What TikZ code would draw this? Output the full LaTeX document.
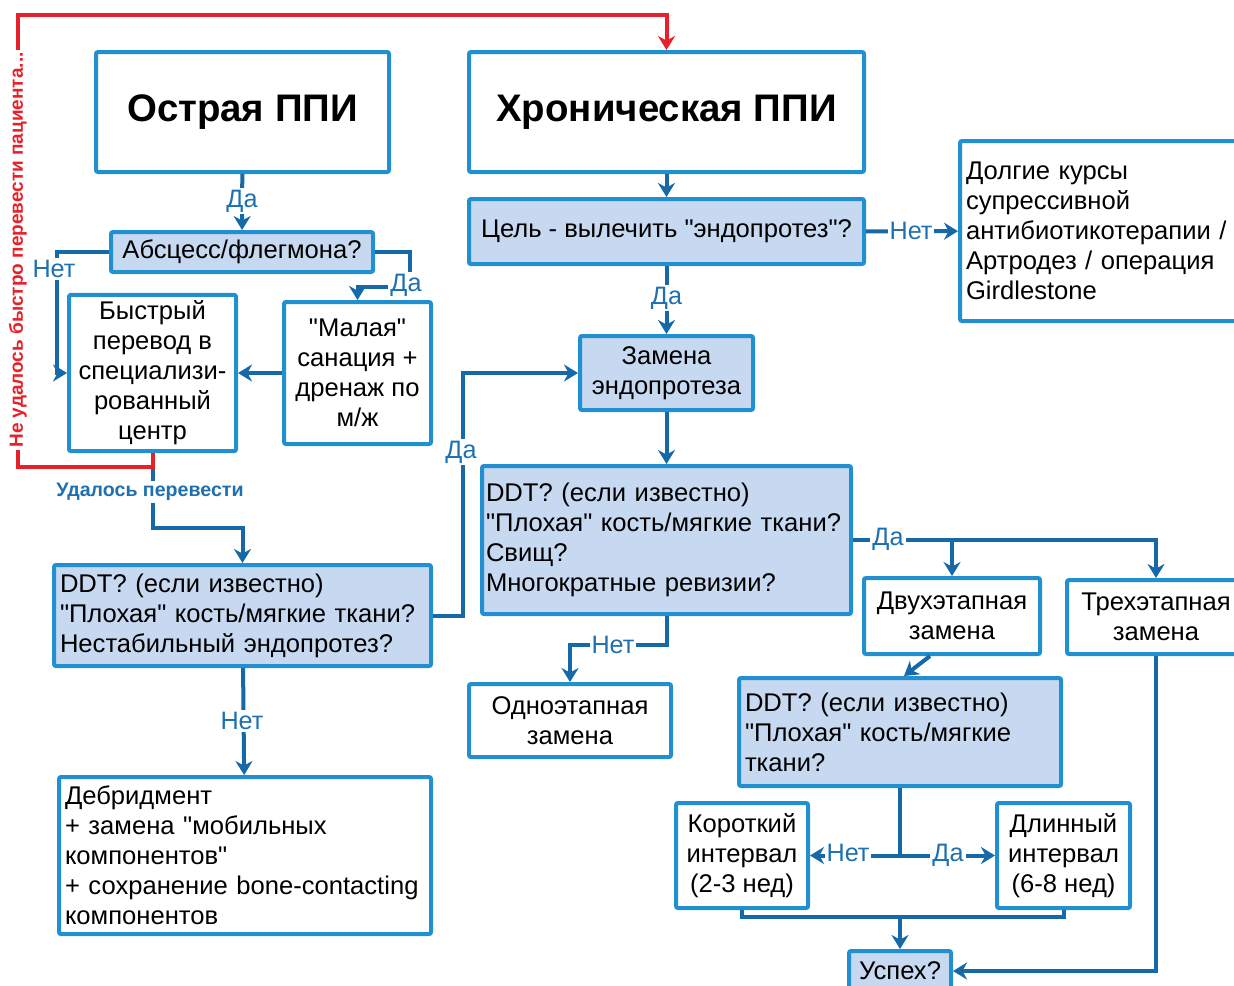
\documentclass[tikz,border=0pt]{standalone}
\usepackage{fontspec}
\setmainfont{Liberation Sans}[Ligatures=TeXOff]
\usetikzlibrary{arrows.meta}

\definecolor{bdblue}{RGB}{33,143,208}
\definecolor{lnblue}{RGB}{22,104,166}
\definecolor{lbblue}{RGB}{30,112,176}
\definecolor{qfill}{RGB}{198,217,240}
\definecolor{redln}{RGB}{232,32,42}

\begin{document}
\begin{tikzpicture}[x=0.5pt, y=-0.5pt,
  box/.style={draw=bdblue, line width=2pt, rounded corners=1pt, fill=white,
    inner sep=3pt, align=center, font=\fontsize{12.8}{15}\selectfont},
  qbox/.style={box, fill=qfill},
  titlebox/.style={box, font=\bfseries\fontsize{19.2}{23}\selectfont},
  lbl/.style={fill=white, inner sep=1pt, text=lbblue, font=\fontsize{12.6}{14}\selectfont},
  conn/.style={draw=lnblue, line width=2pt, -{Stealth[length=7pt,width=8.5pt]}}]
  \useasboundingbox (0,0) rectangle (1234,985);

  % 框
  \node[titlebox, minimum width=146.5pt, minimum height=60pt] (acute) at (242.5,112) {Острая ППИ};
  \node[titlebox, minimum width=197.5pt, minimum height=60pt] (chronic) at (666.5,112) {Хроническая ППИ};
  \node[qbox, minimum width=197.5pt, minimum height=32.5pt] (goal) at (666.5,231.5) {Цель - вылечить "эндопротез"?};
  \node[box, align=left, text width=136.5pt, minimum height=90pt] (longterm) at (1102.5,231)
    {Долгие курсы\\супрессивной\\антибиотикотерапии /\\Артродез / операция\\Girdlestone};
  \node[qbox, minimum width=131pt, minimum height=20pt] (abscess) at (242,252) {Абсцесс/флегмона?};
  \node[box, minimum width=83.5pt, minimum height=76pt] (fast) at (152.5,373)
    {Быстрый\\перевод в\\специализи-\\рованный\\центр};
  \node[box, minimum width=73.5pt, minimum height=71pt] (small) at (357.5,373)
    {"Малая"\\санация +\\дренаж по\\м/ж};
  \node[qbox, minimum width=86.5pt, minimum height=37pt] (replace) at (666.5,373) {Замена\\эндопротеза};
  \node[qbox, align=left, text width=182.5pt, minimum height=50.5pt] (ddtL) at (242.5,615.5)
    {DDT? (если известно)\\"Плохая" кость/мягкие ткани?\\Нестабильный эндопротез?};
  \node[qbox, align=left, inner xsep=2pt, text width=180.5pt, minimum height=74pt] (ddtM) at (666.5,540)
    {DDT? (если известно)\\"Плохая" кость/мягкие ткани?\\Свищ?\\Многократные ревизии?};
  \node[box, align=left, text width=180pt, minimum height=78.5pt] (debride) at (245,855.5)
    {Дебридмент\\+ замена "мобильных\\компонентов"\\+ сохранение bone-contacting\\компонентов};
  \node[box, minimum width=101pt, minimum height=36.5pt] (onestage) at (570,720.5) {Одноэтапная\\замена};
  \node[box, minimum width=88pt, minimum height=38pt] (twostage) at (952,616) {Двухэтапная\\замена};
  \node[box, minimum width=89pt, minimum height=37pt] (threestage) at (1156,617) {Трехэтапная\\замена};
  \node[qbox, align=left, text width=155pt, minimum height=54pt] (ddtR) at (900,732)
    {DDT? (если известно)\\"Плохая" кость/мягкие\\ткани?};
  \node[box, minimum width=66pt, minimum height=52.5pt] (short) at (742,855.5) {Короткий\\интервал\\(2-3 нед)};
  \node[box, minimum width=66.5pt, minimum height=52.5pt] (long) at (1063.5,855.5) {Длинный\\интервал\\(6-8 нед)};
  \node[qbox, minimum width=51pt, minimum height=20pt] (success) at (900,971) {Успех?};

  % 折点
  \coordinate (netbend) at (57,373);
  \coordinate (dabend) at (410,287);
  \coordinate (trbend) at (152.5,528);
  \coordinate (redbl) at (18,467);
  \coordinate (redtl) at (18,15);
  \coordinate (ddtbend) at (463,373);
  \coordinate (netbendM) at (666.5,645);
  \coordinate (splitR) at (900,855.5);
  \coordinate (mergept) at (900,917);

  % 左侧连线
  \draw[conn] (acute) -- (abscess);
  \node[lbl] (laAcute) at (242,201) {Да};
  \draw[conn] (abscess.west) -| (netbend) -- (fast.west);
  \node[lbl] (lnAbscess) at (54,269) {Нет};
  \draw[conn] (abscess.east) -| (dabend) -| (small.north);
  \node[lbl] (laAbscess) at (406,285) {Да};
  \draw[conn] (small) -- (fast);
  \draw[conn] (fast.south) -- (trbend) -| (ddtL.north);
  \node[lbl, font=\bfseries\fontsize{9.8}{11}\selectfont] (lTransfer) at (150,492) {Удалось перевести};
  \draw[conn] (ddtL.east) -| (ddtbend) -- (replace.west);
  \node[lbl] (laDdtL) at (461,452) {Да};
  \draw[conn] (ddtL) -- (debride);
  \node[lbl] (lnDdtL) at (242,721) {Нет};

  % 红线
  \draw[conn, draw=redln, -{Stealth[length=7pt,width=8.5pt]}] (fast.south) |- (redbl) -- (redtl) -| (chronic.north);
  \node[lbl, text=redln, rotate=90, font=\bfseries\fontsize{9.5}{11}\selectfont] (lFail) at (18,250)
    {Не удалось быстро перевести пациента...};

  % 右侧连线
  \draw[conn] (chronic) -- (goal);
  \draw[conn] (goal) -- (longterm);
  \node[lbl] (lnGoal) at (911,231) {Нет};
  \draw[conn] (goal) -- (replace);
  \node[lbl] (laGoal) at (666.5,298) {Да};
  \draw[conn] (replace) -- (ddtM);
  \draw[conn] (ddtM.east) -| (threestage.north);
  \draw[conn] (twostage.north |- ddtM.east) -- (twostage.north);
  \node[lbl] (laDdtM) at (888,539) {Да};
  \draw[conn] (ddtM.south) -- (netbendM) -| (onestage.north);
  \node[lbl] (lnDdtM) at (613,645) {Нет};
  \draw[conn] ([xshift=-11pt]twostage.south) -- ([xshift=2pt]ddtR.north);
  \draw[conn, -] (ddtR.south) -- (splitR);
  \draw[conn] (splitR) -- (short.east);
  \draw[conn] (splitR) -- (long.west);
  \node[lbl] (lnDdtR) at (848,853) {Нет};
  \node[lbl] (laDdtR) at (948,855) {Да};
  \draw[conn, -] (short.south) |- (mergept) -| (long.south);
  \draw[conn] (mergept) -- (success.north);
  \draw[conn] (threestage.south) |- (success.east);
\end{tikzpicture}
\end{document}
